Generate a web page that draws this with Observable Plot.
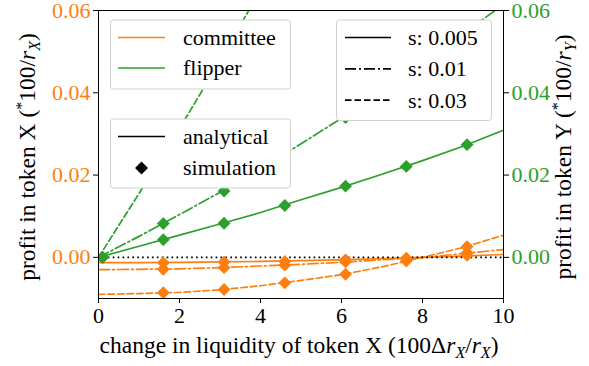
<!DOCTYPE html>
<html>
<head>
<meta charset="utf-8">
<script src="https://cdn.jsdelivr.net/npm/d3@7"></script>
<script src="https://cdn.jsdelivr.net/npm/@observablehq/plot@0.6"></script>
<style>
  html, body { margin: 0; padding: 0; background: white; }
  svg { display: block; }
  svg text, svg tspan { font-family: "Liberation Serif", "DejaVu Serif", serif !important; }
</style>
</head>
<body>
<div id="chart"></div>
<script>
// ---- data ----
const xAnalytical = [0, 1, 2, 3, 4, 5, 6, 7, 8, 9, 10];
const committeeS005 = [-0.0013, -0.0013, -0.0012, -0.0011, -0.0010, -0.0008, -0.0006, -0.0003, 0.0000, 0.0003, 0.0007];
const committeeS01  = [-0.0030, -0.0029, -0.0028, -0.0025, -0.0021, -0.0017, -0.0012, -0.0006, 0.0000, 0.0009, 0.0019];
const committeeS03  = [-0.0090, -0.0088, -0.0085, -0.0079, -0.0069, -0.0056, -0.0042, -0.0023, 0.0000, 0.0024, 0.0054];
const flipperS005   = [0, 0.0027, 0.0054, 0.0081, 0.0109, 0.0140, 0.0170, 0.0202, 0.0235, 0.0270, 0.0309];
const flipperS01    = [0, 0.0051, 0.0104, 0.0158, 0.0215, 0.0276, 0.0338, 0.0405, 0.0475, 0.0543, 0.0615];
const flipperS03    = [0, 0.0155, 0.0313, 0.0478, 0.0650, null, null, null, null, null, null];

const xSimulation = [0.1, 1.6, 3.1, 4.6, 6.1, 7.6, 9.1];
const committeeSimS005 = [null, -0.0013, -0.0011, -0.0010, -0.0006, -0.0002, 0.0005];
const committeeSimS01  = [null, -0.0029, -0.0025, -0.0019, -0.0011, -0.0004, 0.0011];
const committeeSimS03  = [null, -0.0086, -0.0078, -0.0062, -0.0041, -0.0009, 0.0026];
const flipperSimS005   = [0, 0.0043, 0.0083, 0.0126, 0.0173, 0.0221, 0.0274];
const flipperSimS01    = [0, 0.0082, 0.0161, 0.0247, 0.0340, 0.0445, 0.0560];
const flipperSimS03    = [0, 0.0250, 0.0490, null, null, null, null];

const xTicks = [0, 2, 4, 6, 8, 10];
const yTicks = [0, 0.02, 0.04, 0.06];

const roles = ["committee", "flipper"];
const sLabels = ["s: 0.005", "s: 0.01", "s: 0.03"];

// ---- styles ----
const ORANGE = "#ff7f0e", GREEN = "#2ca02c";
const DASH = {"s: 0.005": null, "s: 0.01": "11,3,2,3", "s: 0.03": "6.5,3"};
const FONT = "Liberation Serif";

const analytical = [
  {role: "committee", s: "s: 0.005", ys: committeeS005},
  {role: "committee", s: "s: 0.01",  ys: committeeS01},
  {role: "committee", s: "s: 0.03",  ys: committeeS03},
  {role: "flipper",   s: "s: 0.005", ys: flipperS005},
  {role: "flipper",   s: "s: 0.01",  ys: flipperS01},
  {role: "flipper",   s: "s: 0.03",  ys: flipperS03},
];
const simulation = [
  {role: "committee", s: "s: 0.005", ys: committeeSimS005},
  {role: "committee", s: "s: 0.01",  ys: committeeSimS01},
  {role: "committee", s: "s: 0.03",  ys: committeeSimS03},
  {role: "flipper",   s: "s: 0.005", ys: flipperSimS005},
  {role: "flipper",   s: "s: 0.01",  ys: flipperSimS01},
  {role: "flipper",   s: "s: 0.03",  ys: flipperSimS03},
];
const colorOf = r => r === "committee" ? ORANGE : GREEN;

const marks = [];
for (const ser of analytical) {
  const rows = xAnalytical.map((x, i) => ({x, y: ser.ys[i]})).filter(d => d.y !== null);
  marks.push(Plot.line(rows, {x: "x", y: "y", stroke: colorOf(ser.role), strokeWidth: 1.7,
    strokeDasharray: DASH[ser.s], clip: true}));
}
marks.push(Plot.ruleY([0], {stroke: "black", strokeWidth: 1.7, strokeDasharray: "1.7,3.2"}));
for (const ser of simulation) {
  const rows = xSimulation.map((x, i) => ({x, y: ser.ys[i]})).filter(d => d.y !== null);
  marks.push(Plot.dot(rows, {x: "x", y: "y", symbol: "diamond2", r: 5.8, fill: colorOf(ser.role),
    stroke: "none", clip: true}));
}
marks.push(Plot.frame({stroke: "black", strokeWidth: 1}));
marks.push(Plot.axisX({ticks: xTicks, tickSize: 5, tickPadding: 4, label: null, tickFormat: d3.format("d")}));
marks.push(Plot.axisY({anchor: "left", ticks: yTicks, tickSize: 5, tickPadding: 3, label: null,
  tickFormat: d3.format(".2f"), fill: ORANGE}));
marks.push(Plot.axisY({anchor: "right", ticks: yTicks, tickSize: 5, tickPadding: 3, label: null,
  tickFormat: d3.format(".2f"), fill: GREEN}));

const svgNode = Plot.plot({
  width: 589, height: 366,
  marginLeft: 98, marginRight: 86, marginTop: 10, marginBottom: 68,
  x: {domain: [0, 10]},
  y: {domain: [-0.01, 0.06]},
  style: {fontFamily: FONT, fontSize: "22px", background: "white", color: "black", overflow: "visible"},
  marks
});
document.getElementById("chart").appendChild(svgNode);

// ---- titles & legends ----
const svg = d3.select(svgNode);
const g = svg.append("g").attr("font-family", FONT).attr("font-size", 22).attr("fill", "black")
  .attr("text-anchor", "start");

function rich(textSel, parts) {
  let shift = 0;
  for (const p of parts) {
    const s = p.shift || 0;
    const ts = textSel.append("tspan").text(p.t).attr("dy", s - shift);
    if (p.italic) ts.attr("font-style", "italic");
    if (p.size) ts.attr("font-size", p.size);
    shift = s;
  }
}

// x title
rich(g.append("text").attr("x", 299).attr("y", 353).attr("text-anchor", "middle").attr("font-size", 23.5), [
  {t: "change in liquidity of token X (100Δ"},
  {t: "r", italic: true},
  {t: "X", italic: true, size: 16, shift: 5},
  {t: "/"},
  {t: "r", italic: true},
  {t: "X", italic: true, size: 16, shift: 5},
  {t: ")"}
]);
// left title
rich(g.append("text").attr("transform", "translate(35,157) rotate(-90)").attr("text-anchor", "middle").attr("font-size", 23.5), [
  {t: "profit in token X ("},
  {t: "*", size: 16, shift: -8},
  {t: "100/"},
  {t: "r", italic: true},
  {t: "X", italic: true, size: 16, shift: 5},
  {t: ")"}
]);
// right title
rich(g.append("text").attr("transform", "translate(571,157) rotate(-90)").attr("text-anchor", "middle").attr("font-size", 23.5), [
  {t: "profit in token Y ("},
  {t: "*", size: 16, shift: -8},
  {t: "100/"},
  {t: "r", italic: true},
  {t: "Y", italic: true, size: 16, shift: 5},
  {t: ")"}
]);

function box(x0, y0, x1, y1) {
  g.append("rect").attr("x", x0).attr("y", y0).attr("width", x1 - x0).attr("height", y1 - y0)
    .attr("rx", 3).attr("fill", "white").attr("stroke", "#d0d0d0").attr("stroke-width", 1);
}
function sample(x0, x1, y, color, dash) {
  const l = g.append("line").attr("x1", x0).attr("x2", x1).attr("y1", y).attr("y2", y)
    .attr("stroke", color).attr("stroke-width", 1.7);
  if (dash) l.attr("stroke-dasharray", dash);
}
// legend 1: roles
box(110.5, 20, 290.5, 89);
roles.forEach((r, i) => {
  const y = 37.5 + i * 30.5;
  sample(118, 165, y, colorOf(r), null);
  g.append("text").attr("x", 183).attr("y", y + 7).attr("text-anchor", "start").text(r);
});
// legend 2: method
box(110.5, 119, 290.5, 188);
sample(118, 165, 136.5, "black", null);
g.append("text").attr("x", 183).attr("y", 143.5).attr("text-anchor", "start").text("analytical");
g.append("path").attr("d", d3.symbol(d3.symbolDiamond2, Math.PI * 5.8 * 5.8)())
  .attr("transform", "translate(141.5,168)").attr("fill", "black");
g.append("text").attr("x", 183).attr("y", 175).attr("text-anchor", "start").text("simulation");
// legend 3: s
box(336.5, 20, 491.5, 120.5);
sLabels.forEach((s, i) => {
  const y = 37.5 + i * 31.3;
  sample(345, 391, y, "black", DASH[s]);
  g.append("text").attr("x", 408).attr("y", y + 7.5).attr("text-anchor", "start").text(s);
});
</script>
</body>
</html>
